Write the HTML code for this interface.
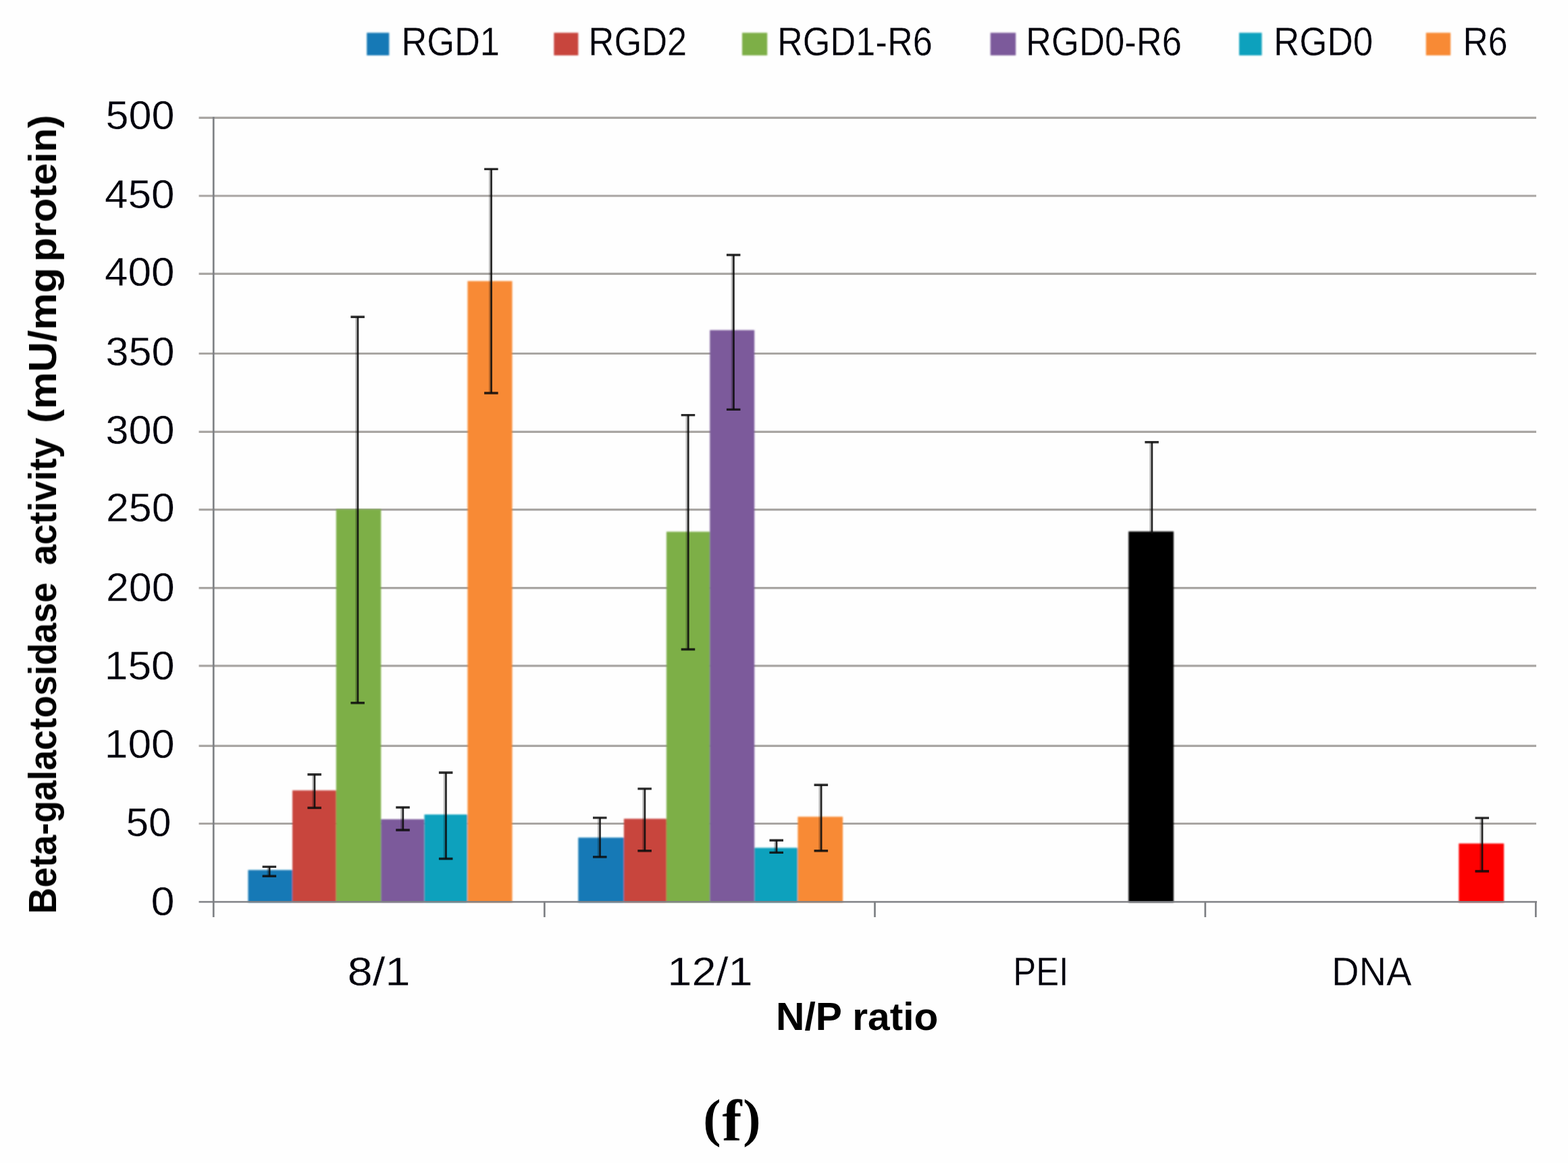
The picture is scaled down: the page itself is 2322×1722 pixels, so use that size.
<!DOCTYPE html>
<html lang="en"><head><meta charset="utf-8"><title>Beta-galactosidase activity chart (f)</title>
<style>
html,body{margin:0;padding:0;background:#fefefe;}
body{width:2322px;height:1722px;overflow:hidden;}
svg{display:block;}
text{font-family:"Liberation Sans",sans-serif;font-size:58.0px;fill:#06060c;}
.b{font-weight:bold;fill:#020206;font-size:58.0px;}
.n{font-size:58.3px;stroke:#fefefe;stroke-width:0.35px;}
.cap{font-family:"Liberation Serif",serif;font-weight:bold;fill:#000;stroke:none;}
</style></head><body>
<svg width="2322" height="1722" viewBox="0 0 2322 1722">
<defs><filter id="soft" filterUnits="userSpaceOnUse" x="0" y="0" width="2322" height="1722"><feGaussianBlur stdDeviation="0.80"/></filter><filter id="soft2" filterUnits="userSpaceOnUse" x="0" y="0" width="2322" height="1722"><feGaussianBlur stdDeviation="0.50"/></filter><filter id="soft3" filterUnits="userSpaceOnUse" x="0" y="0" width="2322" height="1722"><feGaussianBlur stdDeviation="0.70"/></filter></defs>
<rect x="0" y="0" width="2322" height="1722" fill="#fefefe"/>
<g stroke="#a9a6a3" stroke-width="3.2" fill="none" filter="url(#soft2)">
<line x1="294.5" y1="174.3" x2="2275.0" y2="174.3"/>
<line x1="294.5" y1="290.0" x2="2275.0" y2="290.0"/>
<line x1="294.5" y1="405.3" x2="2275.0" y2="405.3"/>
<line x1="294.5" y1="523.5" x2="2275.0" y2="523.5"/>
<line x1="294.5" y1="639.4" x2="2275.0" y2="639.4"/>
<line x1="294.5" y1="754.7" x2="2275.0" y2="754.7"/>
<line x1="294.5" y1="870.7" x2="2275.0" y2="870.7"/>
<line x1="294.5" y1="985.9" x2="2275.0" y2="985.9"/>
<line x1="294.5" y1="1104.3" x2="2275.0" y2="1104.3"/>
<line x1="294.5" y1="1219.5" x2="2275.0" y2="1219.5"/>
</g>
<g filter="url(#soft)">
<rect x="367.4" y="1288.2" width="65.6" height="47.9" fill="#1479b6"/>
<rect x="433.0" y="1170.3" width="64.8" height="165.8" fill="#c8443c"/>
<rect x="497.8" y="754.0" width="66.4" height="582.1" fill="#7daf47"/>
<rect x="564.2" y="1213.0" width="64.2" height="123.1" fill="#7c5a9b"/>
<rect x="628.4" y="1206.0" width="63.8" height="130.1" fill="#10a1bd"/>
<rect x="692.4" y="416.2" width="66.1" height="919.9" fill="#f88a34"/>
<rect x="856.3" y="1240.2" width="67.6" height="95.9" fill="#1479b6"/>
<rect x="923.9" y="1212.3" width="63.0" height="123.8" fill="#c8443c"/>
<rect x="986.9" y="787.3" width="64.3" height="548.8" fill="#7daf47"/>
<rect x="1051.2" y="488.8" width="66.0" height="847.3" fill="#7c5a9b"/>
<rect x="1117.2" y="1255.3" width="64.2" height="80.8" fill="#10a1bd"/>
<rect x="1181.4" y="1209.3" width="66.7" height="126.8" fill="#f88a34"/>
<rect x="1671.2" y="786.9" width="66.8" height="549.2" fill="#000000"/>
<rect x="2160.3" y="1248.9" width="66.8" height="87.2" fill="#fe0000"/>
</g>
<g stroke="#7e8084" stroke-width="2.7" fill="none" filter="url(#soft2)">
<line x1="316.2" y1="173" x2="316.2" y2="1358"/>
<line x1="294.5" y1="1335.3" x2="2276.0" y2="1335.3" stroke-opacity="0.9"/>
<line x1="806.3" y1="1335.3" x2="806.3" y2="1358"/>
<line x1="1295.5" y1="1335.3" x2="1295.5" y2="1358"/>
<line x1="1784.8" y1="1335.3" x2="1784.8" y2="1358"/>
<line x1="2274.3" y1="1335.3" x2="2274.3" y2="1358"/>
</g>
<g stroke="#0a0a0a" fill="none" filter="url(#soft2)">
<path stroke-width="2.4" stroke-opacity="0.25" d="M396.6 1284.9V1295.7"/>
<path stroke-width="2.7" stroke-opacity="0.9" d="M399.1 1283.4V1297.2"/>
<path stroke-width="3.4" stroke-opacity="0.88" d="M388.6 1283.4h20.5M388.6 1297.2h20.5"/>
<path stroke-width="2.4" stroke-opacity="0.25" d="M463.4 1148.2V1194.6"/>
<path stroke-width="2.7" stroke-opacity="0.9" d="M465.9 1146.7V1196.1"/>
<path stroke-width="3.4" stroke-opacity="0.88" d="M455.4 1146.7h20.5M455.4 1196.1h20.5"/>
<path stroke-width="2.4" stroke-opacity="0.25" d="M527.4 470.7V1039.3"/>
<path stroke-width="2.7" stroke-opacity="0.9" d="M529.9 469.2V1040.8"/>
<path stroke-width="3.4" stroke-opacity="0.88" d="M519.4 469.2h20.5M519.4 1040.8h20.5"/>
<path stroke-width="2.4" stroke-opacity="0.25" d="M594.3 1197.0V1227.5"/>
<path stroke-width="2.7" stroke-opacity="0.9" d="M596.8 1195.5V1229.0"/>
<path stroke-width="3.4" stroke-opacity="0.88" d="M586.3 1195.5h20.5M586.3 1229.0h20.5"/>
<path stroke-width="2.4" stroke-opacity="0.25" d="M657.9 1145.5V1270.0"/>
<path stroke-width="2.7" stroke-opacity="0.9" d="M660.4 1144.0V1271.5"/>
<path stroke-width="3.4" stroke-opacity="0.88" d="M649.9 1144.0h20.5M649.9 1271.5h20.5"/>
<path stroke-width="2.4" stroke-opacity="0.25" d="M725.1 251.9V580.5"/>
<path stroke-width="2.7" stroke-opacity="0.9" d="M727.6 250.4V582.0"/>
<path stroke-width="3.4" stroke-opacity="0.88" d="M717.1 250.4h20.5M717.1 582.0h20.5"/>
<path stroke-width="2.4" stroke-opacity="0.25" d="M886.0 1212.4V1267.4"/>
<path stroke-width="2.7" stroke-opacity="0.9" d="M888.5 1210.9V1268.9"/>
<path stroke-width="3.4" stroke-opacity="0.88" d="M878.0 1210.9h20.5M878.0 1268.9h20.5"/>
<path stroke-width="2.4" stroke-opacity="0.25" d="M952.4 1169.4V1258.3"/>
<path stroke-width="2.7" stroke-opacity="0.9" d="M954.9 1167.9V1259.8"/>
<path stroke-width="3.4" stroke-opacity="0.88" d="M944.4 1167.9h20.5M944.4 1259.8h20.5"/>
<path stroke-width="2.4" stroke-opacity="0.25" d="M1016.7 616.1V960.0"/>
<path stroke-width="2.7" stroke-opacity="0.9" d="M1019.2 614.6V961.5"/>
<path stroke-width="3.4" stroke-opacity="0.88" d="M1008.7 614.6h20.5M1008.7 961.5h20.5"/>
<path stroke-width="2.4" stroke-opacity="0.25" d="M1083.9 379.0V604.9"/>
<path stroke-width="2.7" stroke-opacity="0.9" d="M1086.4 377.5V606.4"/>
<path stroke-width="3.4" stroke-opacity="0.88" d="M1075.9 377.5h20.5M1075.9 606.4h20.5"/>
<path stroke-width="2.4" stroke-opacity="0.25" d="M1147.5 1245.7V1260.9"/>
<path stroke-width="2.7" stroke-opacity="0.9" d="M1150.0 1244.2V1262.4"/>
<path stroke-width="3.4" stroke-opacity="0.88" d="M1139.5 1244.2h20.5M1139.5 1262.4h20.5"/>
<path stroke-width="2.4" stroke-opacity="0.25" d="M1213.6 1163.7V1258.3"/>
<path stroke-width="2.7" stroke-opacity="0.9" d="M1216.1 1162.2V1259.8"/>
<path stroke-width="3.4" stroke-opacity="0.88" d="M1205.6 1162.2h20.5M1205.6 1259.8h20.5"/>
<path stroke-width="2.4" stroke-opacity="0.25" d="M1703.4 656.2V788.5"/>
<path stroke-width="2.7" stroke-opacity="0.9" d="M1705.9 654.7V790.0"/>
<path stroke-width="3.4" stroke-opacity="0.88" d="M1695.4 654.7h20.5"/>
<path stroke-width="2.4" stroke-opacity="0.25" d="M2192.5 1212.6V1288.5"/>
<path stroke-width="2.7" stroke-opacity="0.9" d="M2195.0 1211.1V1290.0"/>
<path stroke-width="3.4" stroke-opacity="0.88" d="M2184.5 1211.1h20.5M2184.5 1290.0h20.5"/>
</g>
<g filter="url(#soft)">
<rect x="543.2" y="48.5" width="33.1" height="33.5" fill="#1479b6"/>
<rect x="820.3" y="48.5" width="36.0" height="33.5" fill="#c8443c"/>
<rect x="1099.0" y="48.5" width="37.2" height="33.5" fill="#7daf47"/>
<rect x="1466.7" y="48.5" width="37.5" height="33.5" fill="#7c5a9b"/>
<rect x="1835.0" y="48.5" width="33.6" height="33.5" fill="#10a1bd"/>
<rect x="2111.7" y="48.5" width="36.4" height="33.5" fill="#f88a34"/>
</g>
<g filter="url(#soft3)">
<text class="n" x="594.42" y="82.0" textLength="145.60" lengthAdjust="spacingAndGlyphs">RGD1</text>
<text class="n" x="871.53" y="82.0" textLength="145.67" lengthAdjust="spacingAndGlyphs">RGD2</text>
<text class="n" x="1150.94" y="82.0" textLength="230.00" lengthAdjust="spacingAndGlyphs">RGD1-R6</text>
<text class="n" x="1519.03" y="82.0" textLength="231.09" lengthAdjust="spacingAndGlyphs">RGD0-R6</text>
<text class="n" x="1886.00" y="82.0" textLength="147.09" lengthAdjust="spacingAndGlyphs">RGD0</text>
<text class="n" x="2166.42" y="82.0" textLength="66.11" lengthAdjust="spacingAndGlyphs">R6</text>
<text class="n" x="156.44" y="191.3" textLength="101.95" lengthAdjust="spacingAndGlyphs">500</text>
<text class="n" x="155.03" y="307.6" textLength="103.47" lengthAdjust="spacingAndGlyphs">450</text>
<text class="n" x="155.03" y="422.8" textLength="103.47" lengthAdjust="spacingAndGlyphs">400</text>
<text class="n" x="156.43" y="541.2" textLength="102.01" lengthAdjust="spacingAndGlyphs">350</text>
<text class="n" x="156.43" y="656.6" textLength="102.01" lengthAdjust="spacingAndGlyphs">300</text>
<text class="n" x="156.99" y="772.0" textLength="101.54" lengthAdjust="spacingAndGlyphs">250</text>
<text class="n" x="156.99" y="890.4" textLength="101.54" lengthAdjust="spacingAndGlyphs">200</text>
<text class="n" x="154.84" y="1005.7" textLength="103.75" lengthAdjust="spacingAndGlyphs">150</text>
<text class="n" x="154.84" y="1122.0" textLength="103.75" lengthAdjust="spacingAndGlyphs">100</text>
<text class="n" x="186.51" y="1237.6" textLength="67.02" lengthAdjust="spacingAndGlyphs">50</text>
<text class="n" x="223.49" y="1354.8" textLength="35.05" lengthAdjust="spacingAndGlyphs">0</text>
<text class="n" x="514.46" y="1459.4" textLength="93.11" lengthAdjust="spacingAndGlyphs">8/1</text>
<text class="n" x="988.36" y="1459.4" textLength="126.21" lengthAdjust="spacingAndGlyphs">12/1</text>
<text class="n" x="1500.28" y="1459.0" textLength="82.03" lengthAdjust="spacingAndGlyphs">PEI</text>
<text class="n" x="1972.02" y="1459.0" textLength="118.56" lengthAdjust="spacingAndGlyphs">DNA</text>
<text class="b" x="1148.98" y="1524.7" textLength="240.53" lengthAdjust="spacingAndGlyphs">N/P ratio</text>
<text class="b" transform="translate(83.0 1349.6) rotate(-90)">
<tspan x="-3.42" y="0" textLength="490.52" lengthAdjust="spacingAndGlyphs">Beta-galactosidase</tspan> 
<tspan x="512.63" y="0" textLength="188.97" lengthAdjust="spacingAndGlyphs">activity</tspan> 
<tspan x="723.05" y="0" textLength="230.62" lengthAdjust="spacingAndGlyphs">(mU/mg</tspan> 
<tspan x="961.98" y="0" textLength="217.57" lengthAdjust="spacingAndGlyphs">protein)</tspan>
</text>
</g>
<text class="cap" y="1689" style="font-size:87px"><tspan x="1041.2" y="1682.2" style="font-size:79px">(</tspan><tspan x="1069.6" y="1689">f</tspan><tspan x="1100.2" y="1682.2" style="font-size:79px">)</tspan></text>
</svg>
</body></html>
